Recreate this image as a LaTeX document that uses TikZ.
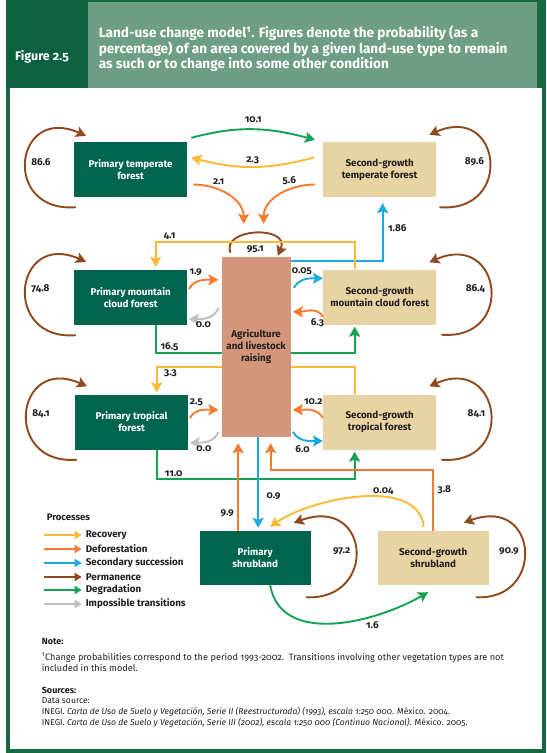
\documentclass[tikz,border=0pt]{standalone}
\usepackage{fontspec}
\setmainfont{Fira Sans}[Numbers=OldStyle]
\usetikzlibrary{arrows.meta,backgrounds}

\definecolor{framegreen}{HTML}{17693F}
\definecolor{headdark}{HTML}{0B6141}
\definecolor{headlight}{HTML}{6F9E86}
\definecolor{boxdark}{HTML}{00644E}
\definecolor{boxtan}{HTML}{E8D4A2}
\definecolor{boxagri}{HTML}{D4967A}
\definecolor{recov}{HTML}{FDB933}
\definecolor{defor}{HTML}{F47A30}
\definecolor{succ}{HTML}{1CA9E1}
\definecolor{perman}{HTML}{8E4A1E}
\definecolor{degrad}{HTML}{14A352}
\definecolor{imposs}{HTML}{BFBFBF}
\definecolor{ink}{HTML}{231F20}

\begin{document}
\begin{tikzpicture}[x=1pt,y=-1pt,
    box/.style={rectangle,minimum width=113pt,minimum height=55pt,inner sep=2pt,
                align=center,font=\bfseries\fontsize{9.8}{12}\selectfont},
    prim/.style={box,fill=boxdark,text=white},
    second/.style={box,fill=boxtan,text=ink},
    flow/.style={line width=1.9pt,-{Stealth[length=10pt,width=11pt,inset=2pt]}},
    num/.style={font=\bfseries\fontsize{10}{11}\selectfont,text=ink,inner sep=1.5pt},
    leg/.style={anchor=west,font=\bfseries\fontsize{9.8}{11}\selectfont,text=ink,inner sep=1pt},
    legarrow/.style={line width=2.2pt,-{Triangle[length=7pt,width=8pt]}}]
  \begin{scope}[on background layer]
    \fill[framegreen] (0,0) rectangle (540,753);
    \fill[white] (4,88) rectangle (536,749);
    \fill[headdark] (0,0) rectangle (82,88);
    \fill[headlight] (82,2) rectangle (531,88);
  \end{scope}
  \node[anchor=west,text=white,font=\bfseries\fontsize{12.5}{14}\selectfont] (fig) at (6,57) {Figure 2.5};
  \node[anchor=north west,align=left,inner sep=0,text=white,
        font=\bfseries\fontsize{13.6}{14.5}\selectfont] (title) at (93,26)
        {Land-use change model\textsuperscript{1}. Figures denote the probability (as a\\
         percentage) of an area covered by a given land-use type to remain\\
         as such or to change into some other condition};

  \node[prim]   (PT) at (125,169.5) {Primary temperate\\ forest};
  \node[second] (ST) at (374,169.5) {Second-growth\\ temperate forest};
  \node[prim]   (PM) at (125,297.5) {Primary mountain\\ cloud forest};
  \node[second] (SM) at (374,297)   {Second-growth\\ mountain cloud forest};
  \node[prim]   (PR) at (126,422)   {Primary tropical\\ forest};
  \node[second] (SR) at (374,422)   {Second-growth\\ tropical forest};
  \node[box,fill=boxagri,text=ink,minimum width=69pt,minimum height=180pt]
                (AG) at (250.5,347) {Agriculture\\ and livestock\\ raising};
  \node[prim,minimum width=111pt,minimum height=54pt]   (PS) at (249.5,558) {Primary\\ shrubland};
  \node[second,minimum width=111pt,minimum height=54pt] (SS) at (427.5,558) {Second-growth\\ shrubland};

  % permanence loops
  \draw[flow,perman] ([shift={(2,10)}]PT.south west) .. controls +(-75,6) and +(-72,-32)
        .. node[num,pos=0.5,right=3pt] {86.6} ([shift={(12,-6)}]PT.north west);
  \draw[flow,perman] ([shift={(2,10)}]PM.south west) .. controls +(-75,6) and +(-72,-32)
        .. node[num,pos=0.5,right=3pt] {74.8} ([shift={(12,-8)}]PM.north west);
  \draw[flow,perman] ([shift={(2,10)}]PR.south west) .. controls +(-75,6) and +(-72,-32)
        .. node[num,pos=0.5,right=3pt] {84.1} ([shift={(12,-8)}]PR.north west);
  \draw[flow,perman] ([shift={(3,10)}]ST.south east) .. controls +(75,6) and +(72,-32)
        .. node[num,pos=0.5,left=3pt] {89.6} ([shift={(-7,-7)}]ST.north east);
  \draw[flow,perman] ([shift={(5,10)}]SM.south east) .. controls +(75,6) and +(72,-32)
        .. node[num,pos=0.5,left=3pt] {86.4} ([shift={(-7,-7)}]SM.north east);
  \draw[flow,perman] ([shift={(5,10)}]SR.south east) .. controls +(75,6) and +(72,-32)
        .. node[num,pos=0.5,left=3pt] {84.1} ([shift={(-7,-8)}]SR.north east);
  \draw[flow,perman] ([shift={(-5,12)}]PS.south east) .. controls +(72,4) and +(77,-28)
        .. node[num,pos=0.5,left=3pt] {97.2} ([shift={(-17,-8)}]PS.north east);
  \draw[flow,perman] ([shift={(-13,12)}]SS.south east) .. controls +(70,4) and +(75,-28)
        .. node[num,pos=0.5,left=3pt] {90.9} ([shift={(-25,-8)}]SS.north east);
  \draw[flow,perman] ([shift={(9,-4)}]AG.north west) .. controls +(-10,-25) and +(13,-31)
        .. node[num,pos=0.5,below=10pt] {95.1} ([shift={(-13,-1)}]AG.north east);

  % temperate forest
  \draw[flow,degrad] ([shift={(4,-4)}]PT.north east) to[out=15,in=165]
        node[num,above=4pt] {10.1} ([shift={(-8,-2)}]ST.north west);
  \draw[flow,recov] ([shift={(-9,-12)}]ST.west) to[out=195,in=-15]
        node[num,above=1pt] {2.3} ([shift={(4,-12)}]PT.east);
  \draw[flow,defor] ([shift={(6,15)}]PT.east) to[out=0,in=90]
        node[num,above=2pt,pos=0.35] {2.1} ([shift={(-12.5,-33)}]AG.north);
  \draw[flow,defor] ([shift={(-8,15)}]ST.west) to[out=180,in=90]
        node[num,above=2pt,pos=0.35] {5.6} ([shift={(7.5,-33)}]AG.north);
  \draw[flow,succ] ([yshift=-4pt]AG.north east) -|
        node[num,right=3pt,pos=0.78] {1.86} ([shift={(3,6)}]ST.south);

  % mountain cloud forest
  \draw[flow,recov] ([xshift=-25pt]SM.north) -- ++(0,-27) -|
        node[num,above,pos=0.465] {4.1} ([shift={(25,-3)}]PM.north);
  \draw[flow,defor] ([shift={(1.5,-8.5)}]PM.east) to[out=60,in=180]
        node[num,above=4pt,pos=0.3] {1.9} ([shift={(-3,23)}]AG.north west);
  \draw[flow,imposs] ([shift={(-3,51)}]AG.north west) to[out=-110,in=0]
        node[num,below=1pt,pos=0.6] {0.0} ([shift={(1.5,-6)}]PM.south east);
  \draw[flow,succ] ([shift={(3,31)}]AG.north east) to[out=60,in=180]
        node[num,above=3pt,pos=0.35] {0.05} ([shift={(0,9)}]SM.north west);
  \draw[flow,defor] ([shift={(0,-8)}]SM.south west) to[out=120,in=0]
        node[num,below=5pt,pos=0.25] {6.3} ([shift={(2,55)}]AG.north east);

  % tropical forest
  \draw[flow,defor] ([shift={(1.5,-4)}]PR.east) to[out=60,in=180]
        node[num,above=4pt,pos=0.3] {2.5} ([shift={(-3,153)}]AG.north west);
  \draw[flow,imposs] ([shift={(-3,175)}]AG.north west) to[out=-110,in=0]
        node[num,below=1pt,pos=0.6] {0.0} ([shift={(1.5,-7)}]PR.south east);
  \draw[flow,defor] ([shift={(0,-4)}]SR.west) to[out=120,in=0]
        node[num,above=3pt,pos=0.4] {10.2} ([shift={(2,153)}]AG.north east);
  \draw[flow,succ] ([shift={(2,175)}]AG.north east) to[out=-60,in=180]
        node[num,below=3pt,pos=0.4] {6.0} ([shift={(0,19)}]SR.west);
  \draw[flow,degrad] ([xshift=25pt]PR.south) -- ++(0,29) -|
        node[num,above,pos=0.043] {11.0} ([shift={(-25,2)}]SR.south);

  \begin{scope}[on background layer]
    \draw[flow,degrad] ([xshift=25pt]PM.south) -- ++(0,28) -|
          node[num,above,pos=0.035] {16.5} ([shift={(-25,2)}]SM.south);
    \draw[flow,recov] ([xshift=-25pt]SR.north) -- ++(0,-27) -|
          node[num,below,pos=0.465] {3.3} ([shift={(25,-2)}]PR.north);
  \end{scope}

  % shrublands
  \draw[flow,defor] ([xshift=-17pt]PS.north) --
        node[num,left=2pt,pos=0.2] {9.9} ([shift={(-18,6)}]AG.south);
  \draw[flow,succ] ([xshift=2pt]AG.south) --
        node[num,right=6pt,pos=0.65] {0.9} ([shift={(3,-3)}]PS.north);
  \draw[flow,defor] (SS.north) -- node[num,right=2pt,pos=0.67] {3.8} ++(0,-61)
        -| ([shift={(14.5,6)}]AG.south);
  \draw[flow,recov] ([shift={(-9.5,-4)}]SS.north) to[out=95,in=35,looseness=0.85]
        node[num,above=0pt,pos=0.38] {0.04} ([shift={(15,-4)}]PS.north);
  \draw[flow,degrad] ([xshift=15pt]PS.south) to[out=-80,in=210]
        node[num,below=3pt,pos=0.7] {1.6} ([shift={(-5,7)}]SS.south);

  % legend
  \node[leg,font=\bfseries\fontsize{9.5}{11}\selectfont] (proc) at (40,517) {Processes};
  \node[leg] (Lrec) at (79,535) {Recovery};
  \node[leg] (Ldef) at (79,549) {Deforestation};
  \node[leg] (Lsuc) at (79,563) {Secondary succession};
  \node[leg] (Lper) at (79,577) {Permanence};
  \node[leg] (Ldeg) at (79,590) {Degradation};
  \node[leg] (Limp) at (79,604) {Impossible transitions};
  \draw[legarrow,recov]  ([xshift=-41pt]Lrec.west) -- ([xshift=-3pt]Lrec.west);
  \draw[legarrow,defor]  ([xshift=-41pt]Ldef.west) -- ([xshift=-3pt]Ldef.west);
  \draw[legarrow,succ]   ([xshift=-41pt]Lsuc.west) -- ([xshift=-3pt]Lsuc.west);
  \draw[legarrow,perman] ([xshift=-41pt]Lper.west) -- ([xshift=-3pt]Lper.west);
  \draw[legarrow,degrad] ([xshift=-41pt]Ldeg.west) -- ([xshift=-3pt]Ldeg.west);
  \draw[legarrow,imposs] ([xshift=-41pt]Limp.west) -- ([xshift=-3pt]Limp.west);

  % note and sources
  \node[anchor=west,inner sep=0,text=ink,font=\bfseries\fontsize{9}{10}\selectfont]
        (note) at (36,641) {Note:};
  \node[anchor=north west,align=left,inner sep=0,text=ink,font=\fontsize{9.2}{10.5}\selectfont]
        (notetext) at (36,653) {\textsuperscript{1}Change probabilities correspond to the period 1993-2002.\ \ Transitions involving other vegetation types are not\\
        included in this model.};
  \node[anchor=west,inner sep=0,text=ink,font=\bfseries\fontsize{9}{10}\selectfont]
        (src) at (36,690) {Sources:};
  \node[anchor=north west,align=left,inner sep=0,text=ink,font=\fontsize{8.6}{11}\selectfont]
        (srctext) at (36,697) {Data source:\\
        INEGI. \textit{Carta de Uso de Suelo y Vegetación, Serie II (Reestructurada) (1993), escala 1:250 000}. México. 2004.\\
        INEGI. \textit{Carta de Uso de Suelo y Vegetación, Serie III (2002), escala 1:250 000 (Continuo Nacional)}. México. 2005.};
\end{tikzpicture}
\end{document}
